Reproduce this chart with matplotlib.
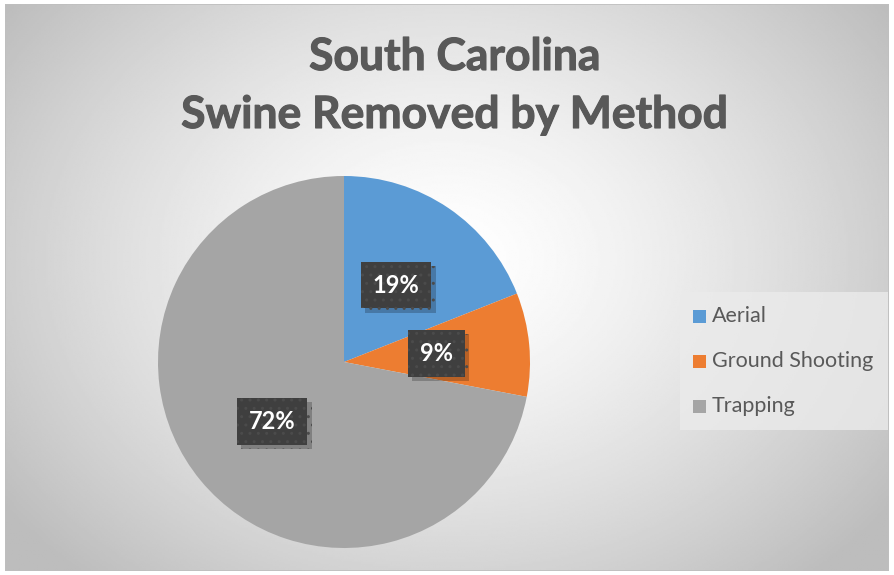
import numpy as np
import matplotlib.pyplot as plt
import matplotlib.patheffects as pe
from matplotlib.patches import Rectangle

methods = ["Aerial", "Ground Shooting", "Trapping"]
shares = [19, 9, 72]
colors = ["#5b9bd5", "#ed7d31", "#a5a5a5"]
title_lines = ["South Carolina", "Swine Removed by Method"]

plt.rcParams['font.family'] = ['Lato', 'DejaVu Sans']

W, H = 894, 575
fig = plt.figure(figsize=(W / 100, H / 100), dpi=100)
fig.patch.set_facecolor("white")

# radial gradient background
bg = fig.add_axes([5 / W, 4 / H, 884 / W, 567 / H])
yy, xx = np.mgrid[0:1:300j, 0:1:460j]
d = np.sqrt(((xx - 0.5) / 0.62) ** 2 + ((yy - 0.55) / 0.75) ** 2)
d = np.clip(d, 0, 1)
shade = 1.0 - 0.26 * d ** 1.4
bg.imshow(shade, cmap="gray", vmin=0, vmax=1, aspect="auto",
          extent=[0, 1, 0, 1], origin="lower")
bg.add_patch(Rectangle((0, 0), 1, 1, transform=bg.transAxes, fill=False,
                       edgecolor="#bfbfbf", lw=1.2))
bg.set_axis_off()

for line, ty in zip(title_lines, [57, 115]):
    t = fig.text(455 / W, 1 - ty / H, line, ha="center", va="center",
                 fontsize=32, fontweight="bold", color="#595959")
    t.set_path_effects([pe.withStroke(linewidth=0.8, foreground="#595959")])

cx, cy, r = 344, 362, 186
ax = fig.add_axes([(cx - r) / W, 1 - (cy + r) / H, 2 * r / W, 2 * r / H])
wedges, _ = ax.pie(shares, colors=colors, startangle=90, counterclock=False,
                   radius=1, wedgeprops=dict(linewidth=0))
ax.set_xlim(-1, 1)
ax.set_ylim(-1, 1)
ax.set_aspect("equal")
ax.set_axis_off()

# data labels at mid-angle, half radius
start = 90.0
for v in shares:
    mid = np.deg2rad(start - v * 3.6 / 2)
    start -= v * 3.6
    x, y = 0.5 * np.cos(mid), 0.5 * np.sin(mid)
    t = ax.text(x, y, f"{v}%", ha="center", va="center", fontsize=17,
                fontweight="bold", color="white",
                bbox=dict(boxstyle="square,pad=0.5", facecolor="#3f3f3f",
                          edgecolor="#4b4b4b", hatch="..", linewidth=0))
    t.get_bbox_patch().set_path_effects([
        pe.SimplePatchShadow(offset=(3, -3), shadow_rgbFace="black", alpha=0.22),
        pe.Normal()])

# legend box
fig.patches.append(Rectangle((680 / W, 1 - 430 / H), 208 / W, 138 / H,
                             transform=fig.transFigure, facecolor="#ebebeb",
                             edgecolor="none", alpha=0.8))
for i, (name, c) in enumerate(zip(methods, colors)):
    ly = 316 + i * 45
    fig.patches.append(Rectangle((693 / W, 1 - (ly + 7) / H), 13 / W, 13 / H,
                                 transform=fig.transFigure, facecolor=c,
                                 edgecolor="none"))
    fig.text(712 / W, 1 - ly / H, name, ha="left", va="center",
             fontsize=15.5, color="#595959")

fig.savefig("out.png", dpi=100)
